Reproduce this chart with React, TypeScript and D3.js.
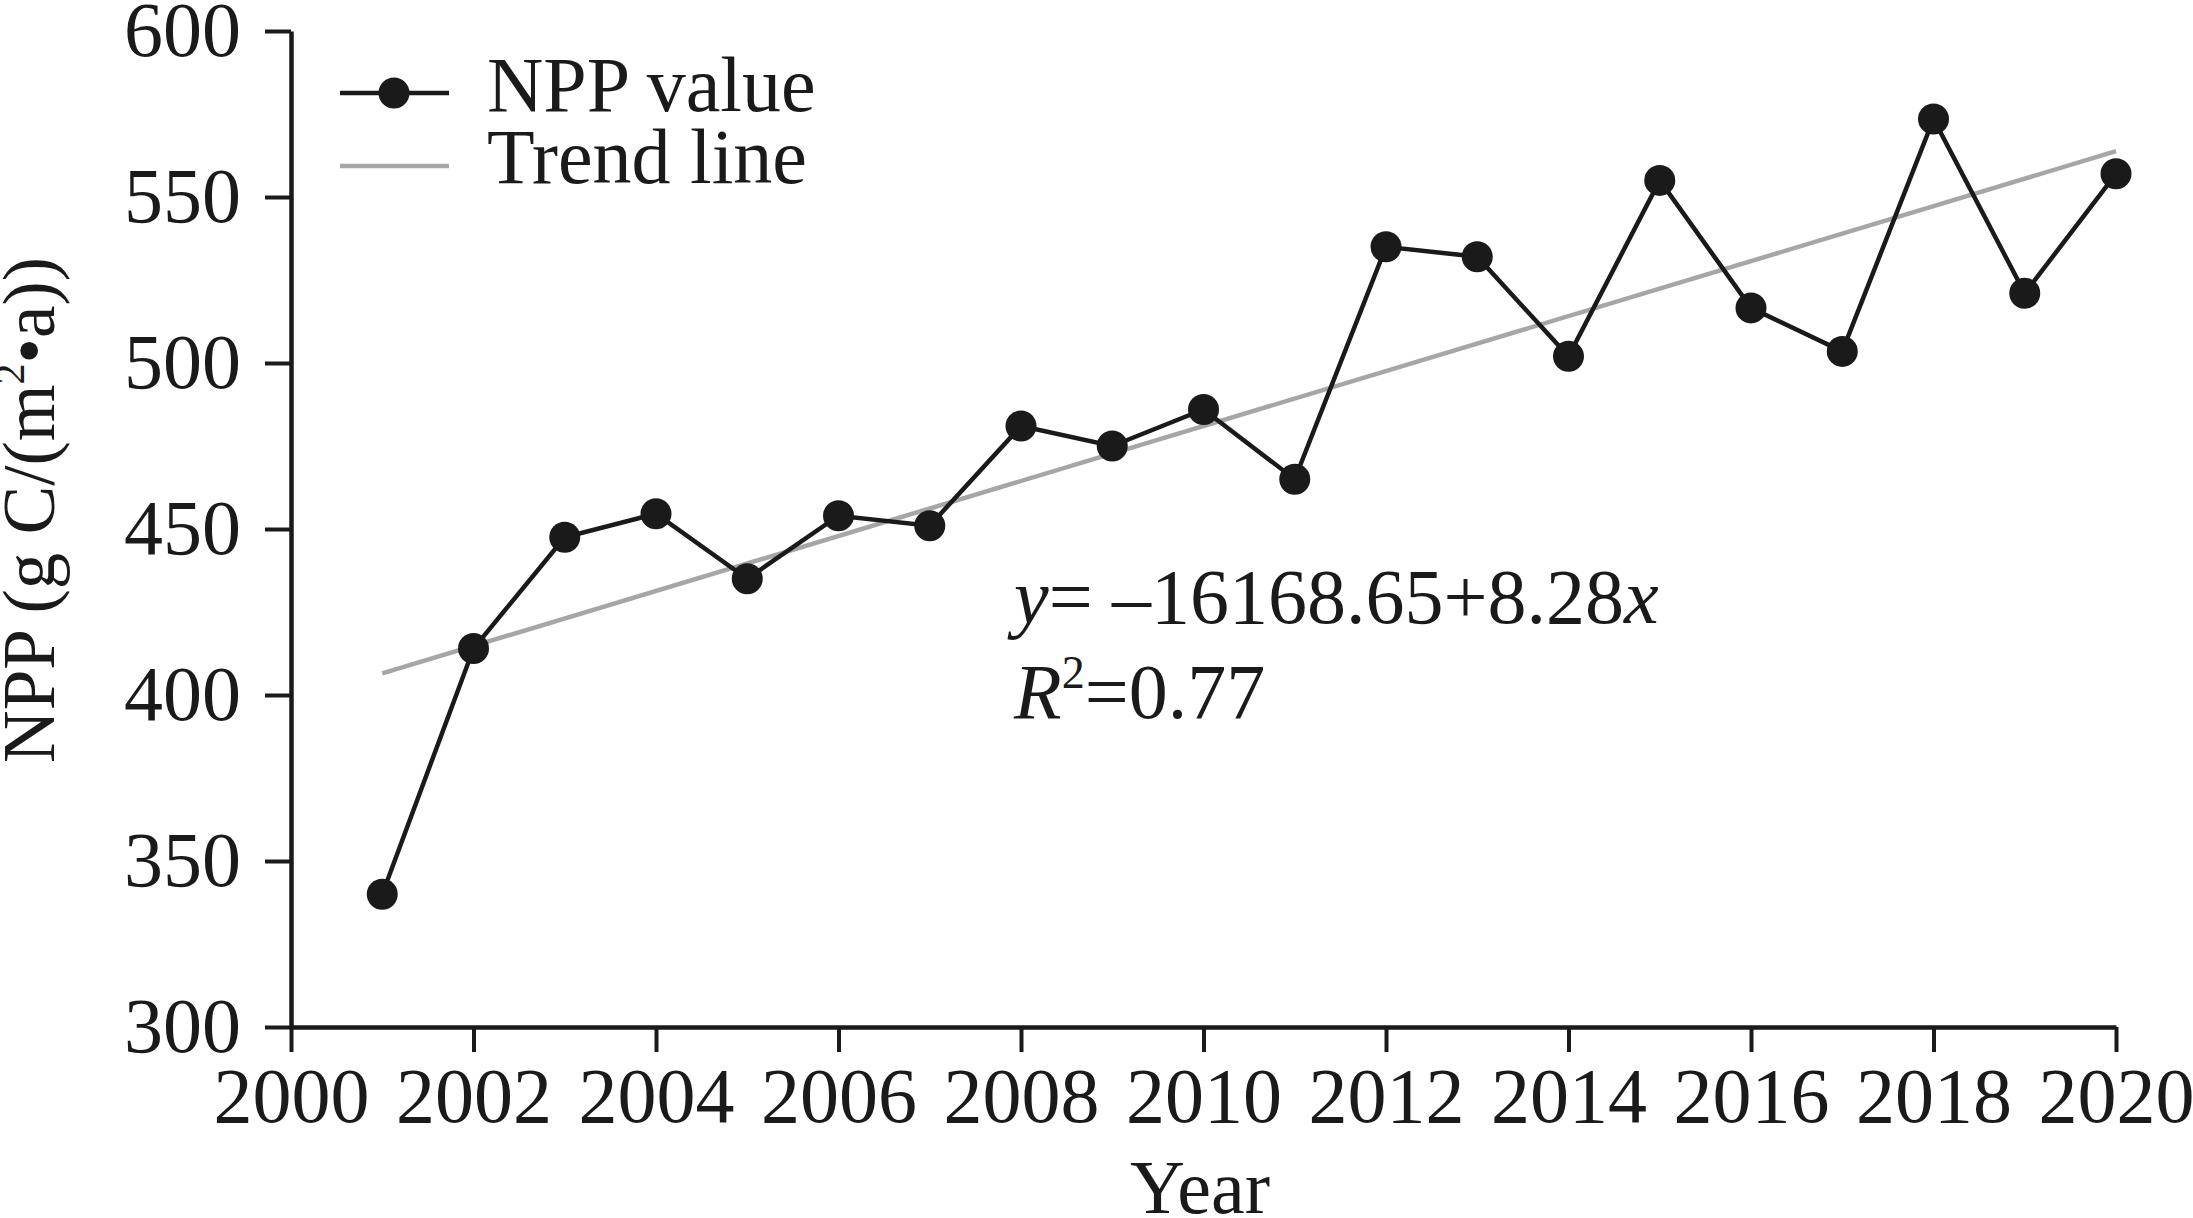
import React, { useEffect, useRef } from "react";
import * as d3 from "d3";

const years = [2001, 2002, 2003, 2004, 2005, 2006, 2007, 2008, 2009, 2010, 2011, 2012, 2013, 2014, 2015, 2016, 2017, 2018, 2019, 2020];
const nppValues = [340, 414, 447.5, 454.6, 435, 454, 451, 481, 475, 486, 465, 535, 532, 502, 555, 516.6, 503.5, 573.5, 521, 557];
const trendYears = [2001, 2020];
const trendValues = [406.5, 563.8];
const xTicks = [2000, 2002, 2004, 2006, 2008, 2010, 2012, 2014, 2016, 2018, 2020];
const yTicks = [300, 350, 400, 450, 500, 550, 600];

const W = 2193;
const H = 1218;
const FONT = "'Liberation Serif', 'Times New Roman', serif";

export default function App() {
  const xAxisRef = useRef<SVGGElement>(null);
  const yAxisRef = useRef<SVGGElement>(null);

  const x = d3.scaleLinear().domain([2000, 2020]).range([291, 2116]);
  const y = d3.scaleLinear().domain([300, 600]).range([1027, 31]);

  useEffect(() => {
    const xa = d3.axisBottom(x).tickValues(xTicks).tickFormat(d3.format("d")).tickSize(25).tickSizeOuter(0).tickPadding(15);
    const ya = d3.axisLeft(y).tickValues(yTicks).tickFormat(d3.format("d")).tickSize(26).tickSizeOuter(0).tickPadding(24);
    const gx = d3.select(xAxisRef.current!);
    gx.call(xa as any);
    const gy = d3.select(yAxisRef.current!);
    gy.call(ya as any);
    [gx, gy].forEach((g) => {
      g.select(".domain").attr("stroke", "#1a1a1a").attr("stroke-width", 4.5);
      g.selectAll(".tick line").attr("stroke", "#1a1a1a").attr("stroke-width", 4);
      g.selectAll(".tick text").attr("fill", "#1a1a1a").style("font-family", FONT);
    });
    gx.selectAll(".tick text").style("font-size", "78px");
    gy.selectAll(".tick text").style("font-size", "78px");
  }, []);

  const line = d3
    .line<number>()
    .x((_, i) => x(years[i]))
    .y((d) => y(d));
  const trend = d3
    .line<number>()
    .x((_, i) => x(trendYears[i]))
    .y((d) => y(d));

  return (
    <svg width={W} height={H} style={{ position: "absolute", left: 0, top: 0, background: "#fff" }}>
      <rect width={W} height={H} fill="#fff" />
      <path d={trend(trendValues) || ""} fill="none" stroke="#a6a6a6" strokeWidth={4.5} />
      <path d={line(nppValues) || ""} fill="none" stroke="#1a1a1a" strokeWidth={4.5} />
      {nppValues.map((v, i) => (
        <circle key={i} cx={x(years[i])} cy={y(v)} r={15.5} fill="#1a1a1a" />
      ))}
      <g ref={xAxisRef} transform={`translate(0,${y(300)})`} />
      <g ref={yAxisRef} transform={`translate(${x(2000)},0)`} />

      {/* legend */}
      <line x1={340} x2={449} y1={93} y2={93} stroke="#1a1a1a" strokeWidth={4.5} />
      <circle cx={394} cy={93} r={15.5} fill="#1a1a1a" />
      <text x={487} y={111} fontFamily={FONT} fontSize={78} fill="#1a1a1a">NPP value</text>
      <line x1={340} x2={449} y1={166} y2={166} stroke="#a6a6a6" strokeWidth={4.5} />
      <text x={487} y={183} fontFamily={FONT} fontSize={78} fill="#1a1a1a">Trend line</text>

      {/* equation */}
      <text x={1014} y={623} fontFamily={FONT} fontSize={78} fill="#1a1a1a">
        <tspan fontStyle="italic">y</tspan>= –16168.65+8.28<tspan fontStyle="italic">x</tspan>
      </text>
      <text x={1014} y={718} fontFamily={FONT} fontSize={78} fill="#1a1a1a">
        <tspan fontStyle="italic">R</tspan>
        <tspan fontSize={46} dy={-30}>2</tspan>
        <tspan dy={30}>=0.77</tspan>
      </text>

      {/* axis titles */}
      <text x={1200} y={1213} textAnchor="middle" fontFamily={FONT} fontSize={76} fill="#1a1a1a">Year</text>
      <text
        transform={`translate(54,510) rotate(-90)`}
        textAnchor="middle"
        fontFamily={FONT}
        fontSize={73}
        fill="#1a1a1a"
      >
        NPP (g C/(m<tspan fontSize={42} dy={-30}>2</tspan><tspan dy={30}>•a))</tspan>
      </text>
    </svg>
  );
}
